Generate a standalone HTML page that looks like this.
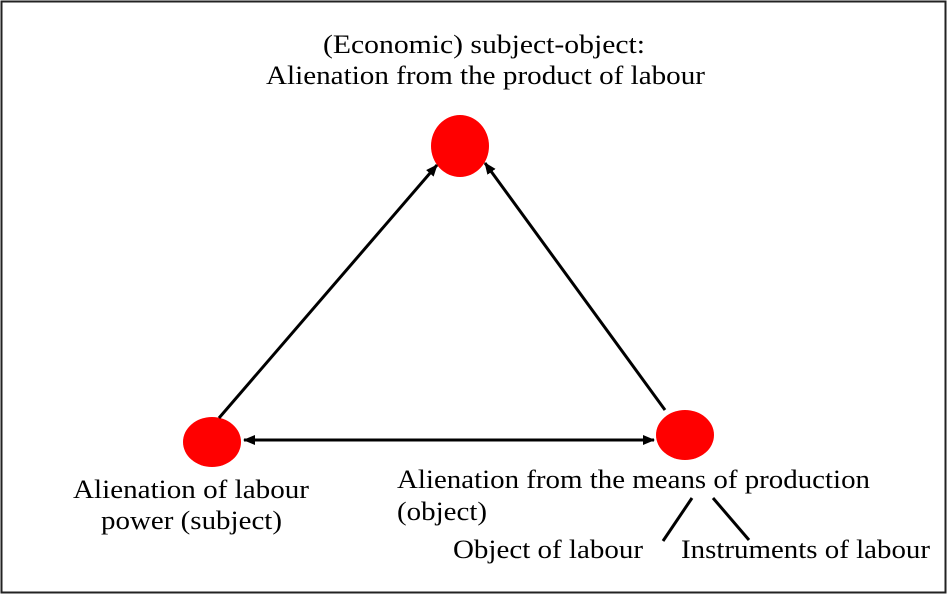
<!DOCTYPE html>
<html><head><style>
html,body{margin:0;padding:0;background:#fff;}
svg{display:block;}
text{font-family:"Liberation Serif",serif;font-size:26px;fill:#000;}
</style></head><body>
<svg width="948" height="595" viewBox="0 0 948 595">
<defs>
<marker id="a" markerWidth="12" markerHeight="10" refX="11" refY="5" orient="auto" markerUnits="userSpaceOnUse">
<path d="M0,0 L12,5 L0,10 Z" fill="#000"/></marker>
<marker id="b" markerWidth="12" markerHeight="10" refX="1" refY="5" orient="auto" markerUnits="userSpaceOnUse">
<path d="M12,0 L0,5 L12,10 Z" fill="#000"/></marker>
</defs>
<rect x="1.5" y="1.5" width="944" height="591" fill="#fff" stroke="#222" stroke-width="2"/>
<ellipse cx="460" cy="146" rx="29" ry="31" fill="#f00"/>
<ellipse cx="212" cy="442" rx="29" ry="25" fill="#f00"/>
<ellipse cx="685" cy="435" rx="29" ry="25" fill="#f00"/>
<line x1="219" y1="418" x2="437" y2="165" stroke="#000" stroke-width="3" marker-end="url(#a)"/>
<line x1="665" y1="410" x2="485" y2="163" stroke="#000" stroke-width="3" marker-end="url(#a)"/>
<line x1="244" y1="440" x2="654" y2="440" stroke="#000" stroke-width="3" marker-start="url(#b)" marker-end="url(#a)"/>
<line x1="692" y1="498" x2="663" y2="541" stroke="#000" stroke-width="3"/>
<line x1="713" y1="498" x2="749" y2="540" stroke="#000" stroke-width="3"/>
<text x="323" y="53" textLength="322" lengthAdjust="spacingAndGlyphs">(Economic) subject-object:</text>
<text x="266" y="84" textLength="439" lengthAdjust="spacingAndGlyphs">Alienation from the product of labour</text>
<text x="73" y="498" textLength="236" lengthAdjust="spacingAndGlyphs">Alienation of labour</text>
<text x="101" y="529" textLength="181" lengthAdjust="spacingAndGlyphs">power (subject)</text>
<text x="397" y="488" textLength="473" lengthAdjust="spacingAndGlyphs">Alienation from the means of production</text>
<text x="397" y="520" textLength="90" lengthAdjust="spacingAndGlyphs">(object)</text>
<text x="453" y="558" textLength="190" lengthAdjust="spacingAndGlyphs">Object of labour</text>
<text x="681" y="558" textLength="249" lengthAdjust="spacingAndGlyphs">Instruments of labour</text>
</svg>
</body></html>
